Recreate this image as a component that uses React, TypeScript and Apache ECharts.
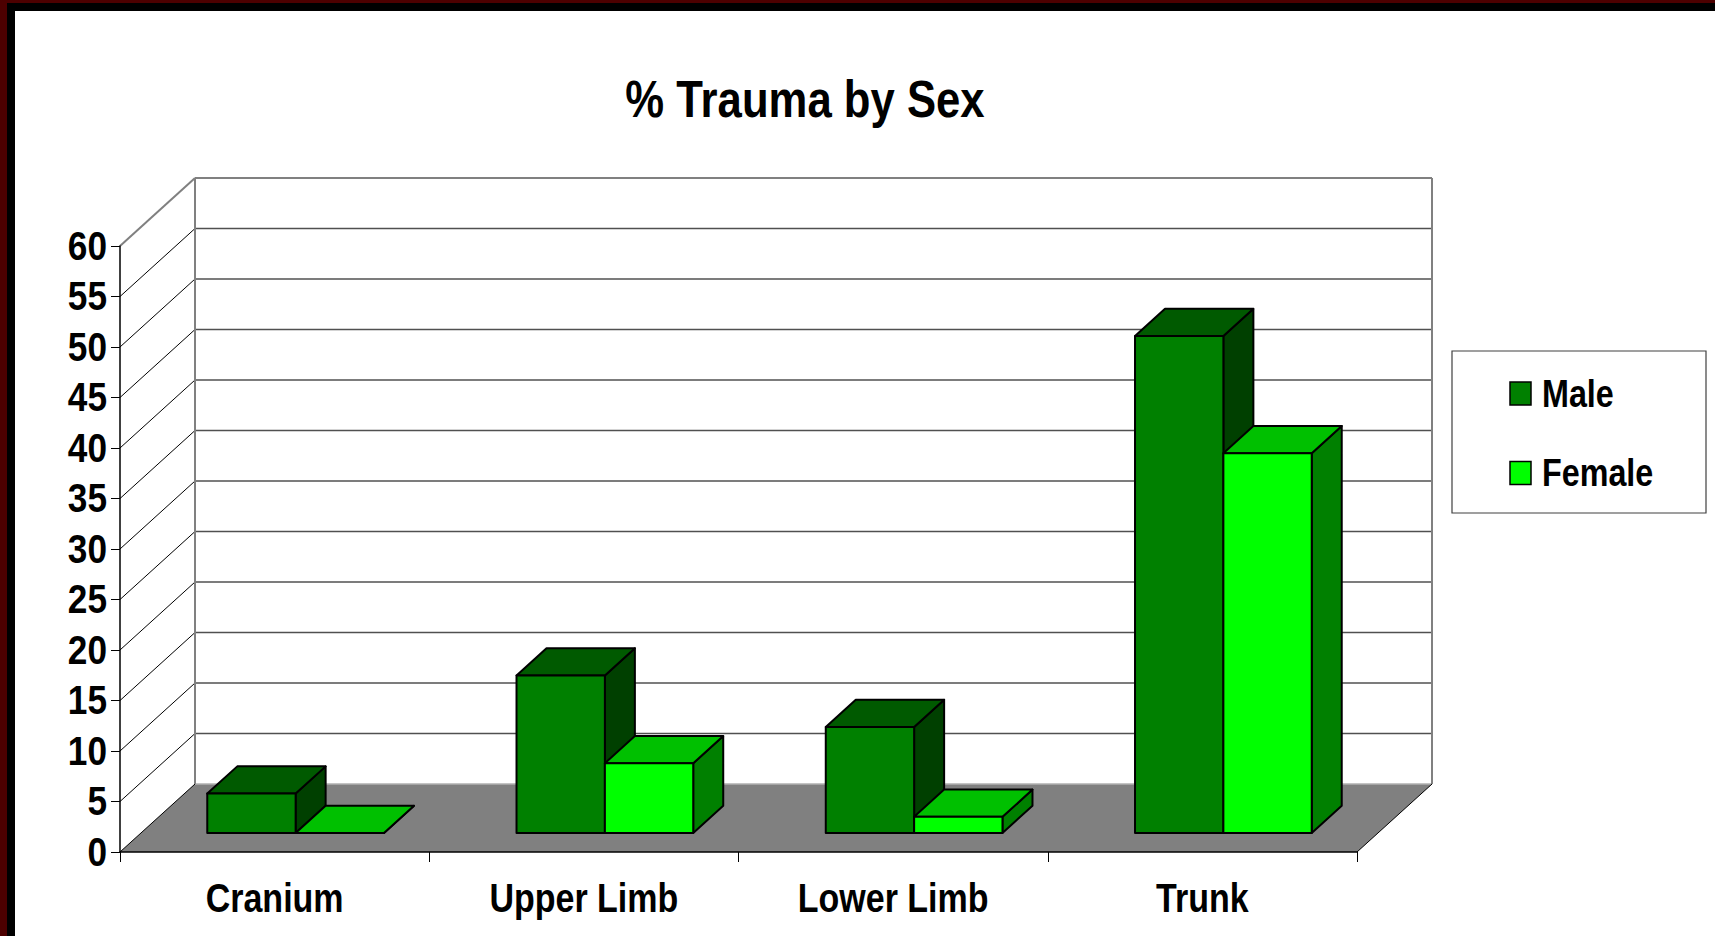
import React, { useEffect, useRef } from "react";
import * as echarts from "echarts";

// ---------- data ----------
const titleText = "% Trauma by Sex";
const categories = ["Cranium", "Upper Limb", "Lower Limb", "Trunk"];
const seriesNames = ["Male", "Female"];
const maleValues = [3.9, 15.6, 10.5, 49.2];
const femaleValues = [0, 6.9, 1.6, 37.6];
const yTicks = [0, 5, 10, 15, 20, 25, 30, 35, 40, 45, 50, 55, 60];

// ---------- style ----------
const FONT = '"Liberation Sans", Arial, sans-serif';
const NARROW = 0.85;
const DEPTH_X = 75;
const DEPTH_Y = -68;
const BAR_FRONT = 0.28;
const BAR_BACK = 0.68;
const GAP_RATIO = 1.5; // Excel-like gap width 150%

const COLORS = [
  { front: "#008000", top: "#005A00", side: "#004000" },
  { front: "#00FF00", top: "#00C000", side: "#008000" },
];

function wallsRender(params: any, api: any) {
  const cs = params.coordSys;
  const L = cs.x;
  const R = cs.x + cs.width;
  const y0 = api.coord([0, yTicks[0]])[1];
  const yTop = api.coord([0, yTicks[yTicks.length - 1]])[1];
  const children: any[] = [];
  children.push({
    type: "polygon",
    shape: { points: [[L, y0], [R, y0], [R + DEPTH_X, y0 + DEPTH_Y], [L + DEPTH_X, y0 + DEPTH_Y]] },
    style: { fill: "#808080", stroke: "none" },
  });
  yTicks.forEach((t, i) => {
    const y = api.coord([0, t])[1];
    const last = i === yTicks.length - 1;
    const first = i === 0;
    children.push({
      type: "line",
      shape: { x1: L + DEPTH_X, y1: y + DEPTH_Y, x2: R + DEPTH_X, y2: y + DEPTH_Y },
      style: { stroke: last ? "#808080" : first ? "#b0b0b0" : "#505050", lineWidth: last ? 2 : 1.3 },
    });
    children.push({
      type: "line",
      shape: { x1: L, y1: y, x2: L + DEPTH_X, y2: y + DEPTH_Y },
      style: { stroke: last ? "#808080" : "#000", lineWidth: last ? 2 : 1 },
    });
  });
  children.push({
    type: "line",
    shape: { x1: L + DEPTH_X, y1: yTop + DEPTH_Y, x2: L + DEPTH_X, y2: y0 + DEPTH_Y },
    style: { stroke: "#808080", lineWidth: 2 },
  });
  children.push({
    type: "line",
    shape: { x1: R + DEPTH_X, y1: yTop + DEPTH_Y, x2: R + DEPTH_X, y2: y0 + DEPTH_Y },
    style: { stroke: "#808080", lineWidth: 2 },
  });
  children.push({
    type: "line",
    shape: { x1: R, y1: y0, x2: R + DEPTH_X, y2: y0 + DEPTH_Y },
    style: { stroke: "#000", lineWidth: 1 },
  });
  return { type: "group", children };
}

// axis labels drawn as condensed text, positioned through the axes' scales
function labelsRender(params: any, api: any) {
  const cs = params.coordSys;
  const L = cs.x;
  const y0 = api.coord([0, 0])[1];
  const children: any[] = [];
  yTicks.forEach((t) => {
    const y = api.coord([0, t])[1];
    children.push({
      type: "text",
      x: L - 13,
      y,
      scaleX: 0.88,
      style: {
        text: String(t),
        fontFamily: FONT,
        fontWeight: "bold",
        fontSize: 40,
        fill: "#000",
        align: "right",
        verticalAlign: "middle",
      },
    });
  });
  categories.forEach((c, i) => {
    const x = api.coord([i, 0])[0];
    children.push({
      type: "text",
      x,
      y: y0 + 46,
      scaleX: NARROW,
      style: {
        text: c,
        fontFamily: FONT,
        fontWeight: "bold",
        fontSize: 40,
        fill: "#000",
        align: "center",
        verticalAlign: "middle",
      },
    });
  });
  return { type: "group", children };
}

function makeBarRender(seriesIdx: number) {
  const c = COLORS[seriesIdx];
  return (params: any, api: any) => {
    const cat = api.value(0);
    const v = api.value(1);
    const base = api.coord([cat, 0]);
    const top = api.coord([cat, v]);
    const band = api.size([1, 0])[0];
    const barW = band / (2 + GAP_RATIO);
    const ox = DEPTH_X * BAR_FRONT;
    const oy = DEPTH_Y * BAR_FRONT;
    const ddx = DEPTH_X * (BAR_BACK - BAR_FRONT);
    const ddy = DEPTH_Y * (BAR_BACK - BAR_FRONT);
    const xL = base[0] - barW + seriesIdx * barW + ox;
    const xR = xL + barW;
    const yB = base[1] + oy;
    const yT = top[1] + oy;
    const stroke = { stroke: "#000", lineWidth: 2, lineJoin: "round" };
    return {
      type: "group",
      children: [
        {
          type: "polygon",
          shape: { points: [[xR, yT], [xR + ddx, yT + ddy], [xR + ddx, yB + ddy], [xR, yB]] },
          style: { fill: c.side, ...stroke },
        },
        {
          type: "polygon",
          shape: { points: [[xL, yT], [xR, yT], [xR + ddx, yT + ddy], [xL + ddx, yT + ddy]] },
          style: { fill: c.top, ...stroke },
        },
        {
          type: "polygon",
          shape: { points: [[xL, yT], [xR, yT], [xR, yB], [xL, yB]] },
          style: { fill: c.front, ...stroke },
        },
      ],
    };
  };
}

export default function App() {
  const ref = useRef<HTMLDivElement>(null);
  useEffect(() => {
    if (!ref.current) return;
    const chart = echarts.init(ref.current, null, { renderer: "svg" });
    const legendItems: any[] = [];
    seriesNames.forEach((name, i) => {
      legendItems.push({
        type: "rect",
        shape: { x: 1510, y: 382 + i * 79.5, width: 21, height: 23 },
        style: { fill: COLORS[i].front, stroke: "#000", lineWidth: 1.5 },
      });
      legendItems.push({
        type: "text",
        x: 1542,
        y: 393.5 + i * 79.5,
        scaleX: NARROW,
        style: {
          text: name,
          fontFamily: FONT,
          fontWeight: "bold",
          fontSize: 38,
          fill: "#000",
          align: "left",
          verticalAlign: "middle",
        },
      });
    });
    chart.setOption({
      animation: false,
      backgroundColor: "#ffffff",
      grid: { left: 120, top: 246, width: 1237, height: 606, containLabel: false },
      xAxis: {
        type: "category",
        data: categories,
        boundaryGap: true,
        z: 10,
        axisLine: { show: true, lineStyle: { color: "#000", width: 1.5 } },
        axisTick: { show: true, length: 10, alignWithLabel: false, lineStyle: { color: "#000", width: 1 } },
        axisLabel: { show: false },
        splitLine: { show: false },
      },
      yAxis: {
        type: "value",
        min: 0,
        max: 60,
        interval: 5,
        z: 10,
        axisLine: { show: true, lineStyle: { color: "#000", width: 1.5 } },
        axisTick: { show: true, length: 9, lineStyle: { color: "#000", width: 1 } },
        axisLabel: { show: false },
        splitLine: { show: false },
      },
      graphic: [
        { type: "rect", shape: { x: 0, y: 0, width: 1715, height: 3 }, style: { fill: "#4d0000" } },
        { type: "rect", shape: { x: 0, y: 0, width: 7, height: 936 }, style: { fill: "#4d0000" } },
        { type: "rect", shape: { x: 7, y: 3, width: 1708, height: 8 }, style: { fill: "#000" } },
        { type: "rect", shape: { x: 7, y: 3, width: 8, height: 933 }, style: { fill: "#000" } },
        {
          type: "text",
          x: 805,
          y: 99,
          scaleX: 0.84,
          style: {
            text: titleText,
            fontFamily: FONT,
            fontWeight: "bold",
            fontSize: 52,
            fill: "#000",
            align: "center",
            verticalAlign: "middle",
          },
        },
        {
          type: "rect",
          shape: { x: 1452, y: 351, width: 254, height: 162 },
          style: { fill: "none", stroke: "#404040", lineWidth: 1.2 },
        },
        ...legendItems,
      ],
      series: [
        {
          type: "custom",
          name: "walls",
          silent: true,
          z: 1,
          renderItem: wallsRender,
          data: [[0, 0]],
          clip: false,
        },
        {
          type: "custom",
          name: seriesNames[0],
          z: 3,
          itemStyle: { color: COLORS[0].front },
          renderItem: makeBarRender(0),
          data: maleValues.map((v, i) => [i, v]),
          clip: false,
        },
        {
          type: "custom",
          name: seriesNames[1],
          z: 4,
          itemStyle: { color: COLORS[1].front },
          renderItem: makeBarRender(1),
          data: femaleValues.map((v, i) => [i, v]),
          clip: false,
        },
        {
          type: "custom",
          name: "labels",
          silent: true,
          z: 5,
          renderItem: labelsRender,
          data: [[0, 0]],
          clip: false,
        },
      ],
    });
    return () => chart.dispose();
  }, []);
  return (
    <div
      ref={ref}
      style={{ position: "fixed", left: 0, top: 0, width: 1715, height: 936, background: "#fff" }}
    />
  );
}
